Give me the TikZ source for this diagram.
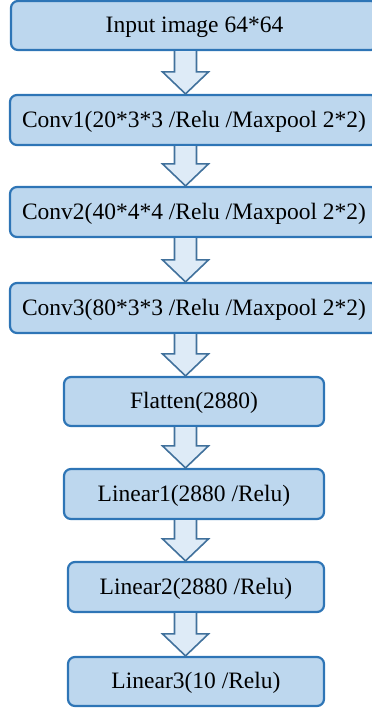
\documentclass[tikz,border=0pt]{standalone}
\usepackage{fontspec}
\setmainfont{Liberation Serif}
\usetikzlibrary{calc}
\definecolor{boxfill}{HTML}{BDD7EE}
\definecolor{boxline}{HTML}{2E75B6}
\definecolor{arrfill}{HTML}{DEEBF7}
\definecolor{arrline}{HTML}{41719C}
\tikzset{
  layer/.style={draw=boxline, fill=boxfill, line width=2.2pt, rounded corners=7pt,
    inner sep=0pt, text height=16pt, text depth=2pt, font=\fontsize{23.5}{28}\selectfont},
  blockarr/.style={draw=arrline, fill=arrfill, line width=1.6pt, line join=miter}
}
\newcommand{\blkarrow}[2]{%
  \draw[blockarr] ($(#1.south -| ax)+(-11,0)$) -- ($(#2.north -| ax)+(-11,-22)$)
    -- ($(#2.north -| ax)+(-23,-22)$) -- (#2.north -| ax)
    -- ($(#2.north -| ax)+(23,-22)$) -- ($(#2.north -| ax)+(11,-22)$)
    -- ($(#1.south -| ax)+(11,0)$);}
\begin{document}
\begin{tikzpicture}[x=1pt, y=-1pt]
\useasboundingbox (0,0) rectangle (372,710);
\clip (0,0) rectangle (372,710);
\coordinate (ax) at (185.5,0);
\node[layer, minimum width=367pt, minimum height=49pt] (in) at (194.5,25.5) {Input image 64*64};
\node[layer, minimum width=368pt, minimum height=50pt] (c1) at (194,120) {Conv1(20*3*3 /Relu /Maxpool 2*2)};
\node[layer, minimum width=368pt, minimum height=50pt] (c2) at (194,212) {Conv2(40*4*4 /Relu /Maxpool 2*2)};
\node[layer, minimum width=368pt, minimum height=50pt] (c3) at (194,308) {Conv3(80*3*3 /Relu /Maxpool 2*2)};
\node[layer, minimum width=260pt, minimum height=49pt] (fl) at (194,401.5) {Flatten(2880)};
\node[layer, minimum width=260pt, minimum height=50pt] (l1) at (194,494) {Linear1(2880 /Relu)};
\node[layer, minimum width=256pt, minimum height=50pt] (l2) at (196,587) {Linear2(2880 /Relu)};
\node[layer, minimum width=256pt, minimum height=49pt] (l3) at (196,681.5) {Linear3(10 /Relu)};
\blkarrow{in}{c1}
\blkarrow{c1}{c2}
\blkarrow{c2}{c3}
\blkarrow{c3}{fl}
\blkarrow{fl}{l1}
\blkarrow{l1}{l2}
\blkarrow{l2}{l3}
\end{tikzpicture}
\end{document}
